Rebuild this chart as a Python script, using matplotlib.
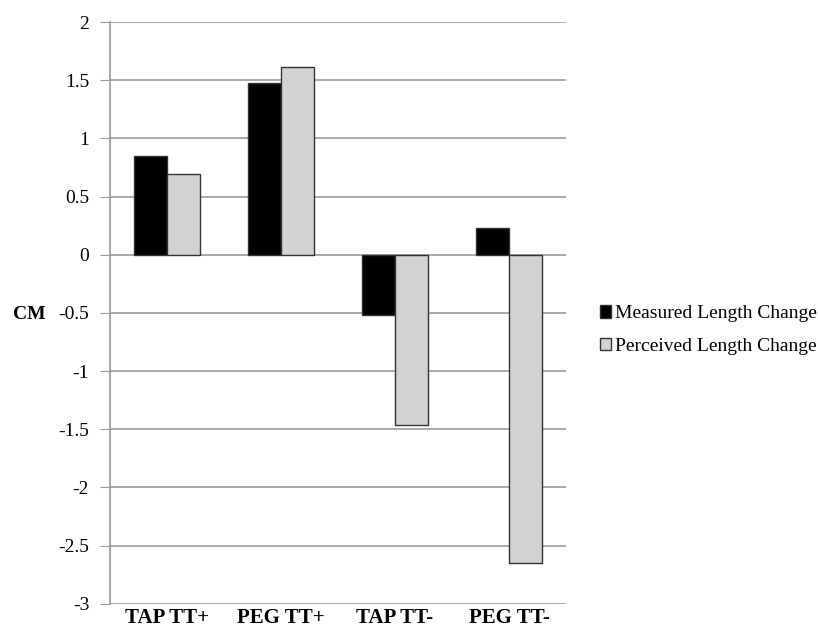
import numpy as np
import matplotlib.pyplot as plt
from matplotlib.patches import Patch

categories = ["TAP TT+", "PEG TT+", "TAP TT-", "PEG TT-"]
measured = [0.85, 1.475, -0.52, 0.23]
perceived = [0.69, 1.61, -1.46, -2.65]
yticks = [2, 1.5, 1, 0.5, 0, -0.5, -1, -1.5, -2, -2.5, -3]

plt.rcParams['font.family'] = ['Liberation Serif', 'DejaVu Serif']

fig = plt.figure(figsize=(8.18, 6.29), dpi=100)
ax = fig.add_axes([110 / 818, 0.04, 456 / 818, 0.925])

x = np.arange(len(categories))
w = 0.29
ax.bar(x - w / 2, measured, w, color="black", edgecolor="#333333", linewidth=1, zorder=3)
ax.bar(x + w / 2, perceived, w, color="#d3d3d3", edgecolor="#333333", linewidth=1, zorder=3)

ax.set_xlim(-0.5, len(categories) - 0.5)
ax.set_ylim(-3, 2)
ax.set_yticks(yticks)
ax.set_yticklabels([("%g" % t) for t in yticks], fontsize=14)
ax.set_xticks(x)
ax.set_xticklabels(categories, fontsize=15, fontweight="bold")
ax.tick_params(axis="x", length=0, pad=3)
ax.tick_params(axis="y", length=7, color="#9a9a9a", pad=8)

ax.grid(axis="y", color="#9a9a9a", linewidth=1.2, zorder=0)
for s in ["top", "right", "bottom"]:
    ax.spines[s].set_visible(False)
ax.spines["left"].set_color("#9a9a9a")
ax.spines["left"].set_linewidth(1.2)

fig.text(13 / 818, 1 - 315 / 629, "CM", fontsize=14, fontweight="bold", va="center")

handles = [Patch(facecolor="black", edgecolor="#333333", label="Measured Length Change"),
           Patch(facecolor="#d3d3d3", edgecolor="#333333", label="Perceived Length Change")]
fig.legend(handles=handles, loc="center left", bbox_to_anchor=(582 / 818, 1 - 330 / 629),
           frameon=False, fontsize=14, handlelength=0.6, handleheight=0.6,
           handletextpad=0.2, labelspacing=0.8)

fig.savefig("out.png", dpi=100)
